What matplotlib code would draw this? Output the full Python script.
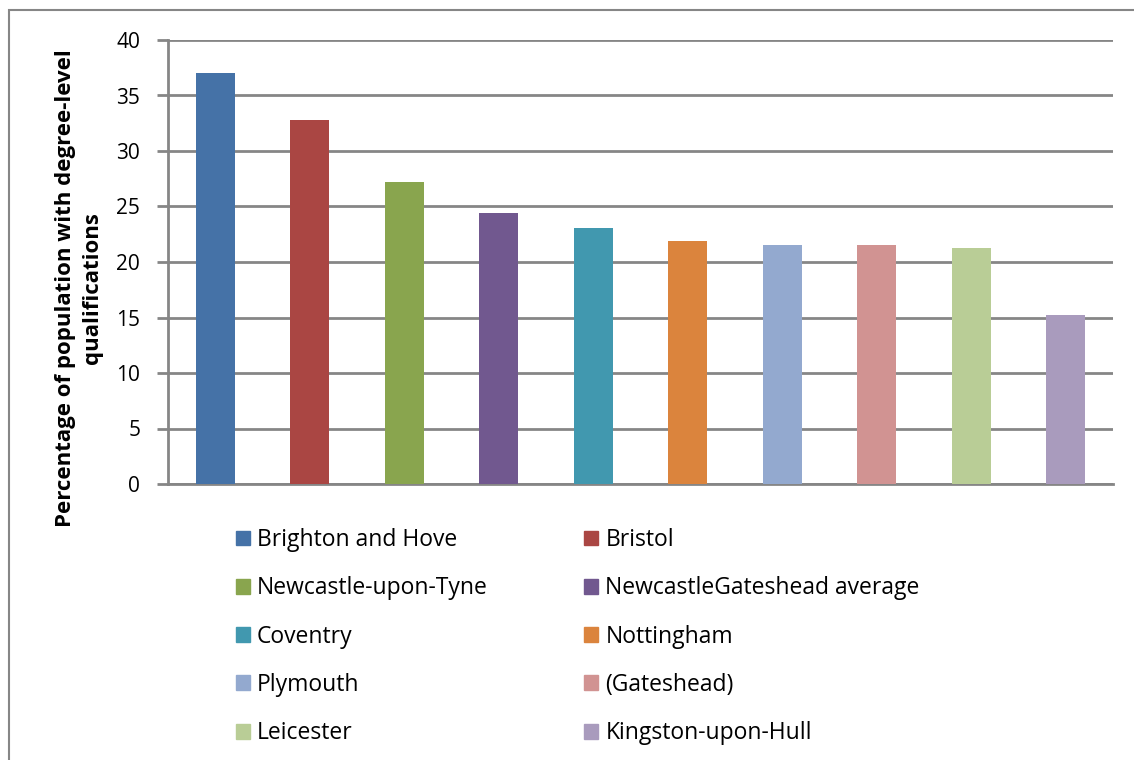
import matplotlib
matplotlib.use("Agg")
import matplotlib.pyplot as plt
from matplotlib.patches import Rectangle, Patch

names = ["Brighton and Hove", "Bristol", "Newcastle-upon-Tyne", "NewcastleGateshead average",
         "Coventry", "Nottingham", "Plymouth", "(Gateshead)", "Leicester", "Kingston-upon-Hull"]
values = [37.0, 32.8, 27.2, 24.4, 23.1, 21.9, 21.5, 21.5, 21.3, 15.2]
colors = ["#4572A7", "#AA4643", "#89A54E", "#71588F", "#4198AF",
          "#DB843D", "#93A9CF", "#D19392", "#B9CD96", "#A99BBD"]
yticks = [0, 5, 10, 15, 20, 25, 30, 35, 40]
ylabel = "Percentage of population with degree-level\nqualifications"

FONT = "Open Sans"
W, H = 1134, 760
fig = plt.figure(figsize=(W / 100, H / 100), dpi=100)
ax = fig.add_axes([168 / W, 1 - 484 / H, (1113 - 168) / W, (484 - 40) / H])

x = list(range(len(values)))
ax.bar(x, values, width=0.41, color=colors, zorder=3)
ax.set_xlim(-0.5, len(values) - 0.5)
ax.set_ylim(0, 40)
ax.set_yticks(yticks)
ax.set_yticklabels([str(t) for t in yticks], fontsize=15, family=FONT)
ax.set_xticks([])
ax.yaxis.grid(True, color="#868686", linewidth=2, zorder=0)
for s in ["top", "right"]:
    ax.spines[s].set_visible(False)
for s in ["left", "bottom"]:
    ax.spines[s].set_color("#868686")
    ax.spines[s].set_linewidth(2)
ax.tick_params(axis="y", length=8, width=2, color="#868686", pad=12)
ax.set_ylabel(ylabel, fontsize=16, fontweight="bold", family=FONT, linespacing=1.4)
ax.yaxis.set_label_coords((103 - 168) / 945, (484 - 288) / 444)

# legend, row-major ordering in two columns
handles = [Patch(color=c, label=n) for n, c in zip(names, colors)]
order = list(range(0, 10, 2)) + list(range(1, 10, 2))
leg = fig.legend([handles[i] for i in order], [names[i] for i in order],
                 ncol=2, loc="upper left", bbox_to_anchor=(236 / W, 1 - 528 / H),
                 frameon=False, prop={"family": FONT, "size": 16.5},
                 handlelength=0.62, handleheight=0.62, handletextpad=0.3,
                 labelspacing=1.06, columnspacing=4.2, borderaxespad=0, borderpad=0)

# outer chart border
fig.patches.append(Rectangle((9 / W, -0.01), 1.2, 1 - 10 / H + 0.01, transform=fig.transFigure,
                             fill=False, edgecolor="#868686", linewidth=1.5))

fig.savefig("out.png", dpi=100)
